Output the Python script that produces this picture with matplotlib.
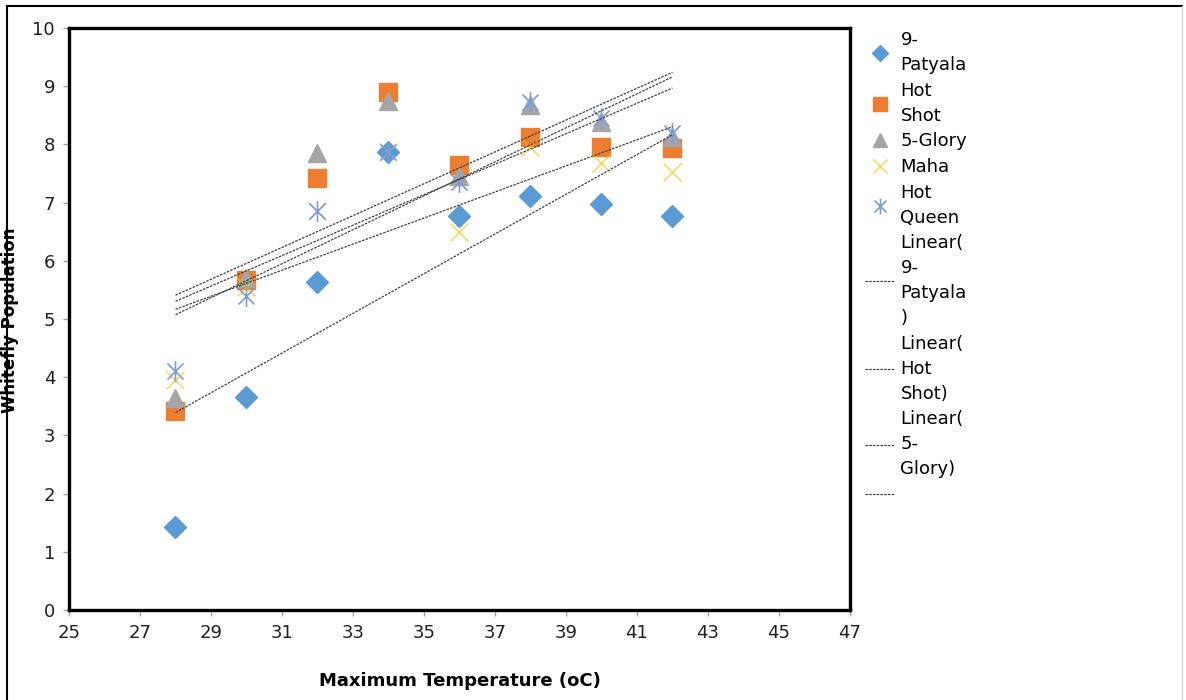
import numpy as np
import matplotlib
matplotlib.use('Agg')
import matplotlib.pyplot as plt
from matplotlib.path import Path
from matplotlib.lines import Line2D

plt.rcParams['font.family'] = ['DejaVu Sans']

temp = [28, 30, 32, 34, 36, 38, 40, 42]
patyala = [1.43, 3.66, 5.64, 7.87, 6.77, 7.11, 6.98, 6.77]
hot_shot = [3.42, 5.67, 7.42, 8.90, 7.65, 8.13, 7.96, 7.94]
glory = [3.65, 5.70, 7.85, 8.75, 7.45, 8.68, 8.38, 8.13]
maha = [3.95, 5.55, 6.85, 7.87, 6.50, 7.95, 7.68, 7.53]
hot_queen = [4.10, 5.40, 6.85, 7.87, 7.35, 8.72, 8.45, 8.20]

names = ['9-\nPatyala', 'Hot\nShot', '5-Glory', 'Maha', 'Hot\nQueen']
trend_names = ['Linear(\n9-\nPatyala\n)', 'Linear(\nHot\nShot)', 'Linear(\n5-\nGlory)', ' ']

# excel style star marker (x with a vertical bar)
star = Path([(-1, -1), (1, 1), (-1, 1), (1, -1), (0, -1.3), (0, 1.3)],
            [Path.MOVETO, Path.LINETO, Path.MOVETO, Path.LINETO, Path.MOVETO, Path.LINETO])

fig = plt.figure(figsize=(11.86, 7.0), dpi=100)
ax = fig.add_axes([69/1186, 1-610/700, (850-69)/1186, (610-28)/700])

x = np.array(temp)
h1 = ax.plot(x, patyala, 'D', color='#5B9BD5', ms=11, lw=0, zorder=3)[0]
h2 = ax.plot(x, hot_shot, 's', color='#ED7D31', ms=13, lw=0, zorder=3)[0]
h3 = ax.plot(x, glory, '^', color='#A5A5A5', ms=13, lw=0, zorder=3)[0]
h4 = ax.plot(x, maha, 'x', color='#FFC000', ms=13, mew=1.0, lw=0, zorder=3, alpha=0.7)[0]
h5 = ax.plot(x, hot_queen, marker=star, color='#7F9CD6', mfc='none', ms=15, mew=1.2, lw=0, zorder=3)[0]

trend_handles = []
for s in [patyala, hot_shot, glory, maha, hot_queen]:
    k, b = np.polyfit(x, s, 1)
    t = ax.plot([x[0], x[-1]], [k*x[0]+b, k*x[-1]+b], color='#404040', lw=0.9,
                ls=(0, (2.0, 1.0)), zorder=4)[0]
    trend_handles.append(t)

ax.set_xlim(25, 47)
ax.set_ylim(0, 10)
ax.set_xticks(np.arange(25, 48, 2))
ax.set_yticks(np.arange(0, 11, 1))
for sp in ax.spines.values():
    sp.set_linewidth(2.4)
    sp.set_color('black')
ax.tick_params(direction='out', length=4, width=1, color='#A0A0A0',
               labelsize=13, labelcolor='#202020', pad=6)
ax.set_xlabel('Maximum Temperature (oC)', fontsize=13, fontweight='bold', labelpad=22)

# y label squeezed against the left edge
fig.text(1/1186, 1-320/700, 'Whitefly Population', rotation=90, ha='left', va='center',
         fontsize=12, fontweight='bold')

handles = [h1, h2, h3, h4, h5] + trend_handles[:4]
labels = names + trend_names
leg = fig.legend(handles, labels, loc='upper left', bbox_to_anchor=(858/1186, 1-24/700),
                 frameon=False, fontsize=13, handlelength=1.6, handletextpad=0.35,
                 labelspacing=0.42, borderaxespad=0, markerscale=0.75)
for t in leg.get_texts():
    t.set_linespacing(1.5)

# outer chart border
fig.add_artist(Line2D([7/1186, 7/1186], [0, 1-6/700], color='black', lw=1.5))
fig.add_artist(Line2D([7/1186, 1182/1186], [1-6/700, 1-6/700], color='black', lw=1.5))
fig.add_artist(Line2D([1182/1186, 1182/1186], [0, 1-6/700], color='#D0D0D0', lw=1))

plt.savefig('out.png', dpi=100)
